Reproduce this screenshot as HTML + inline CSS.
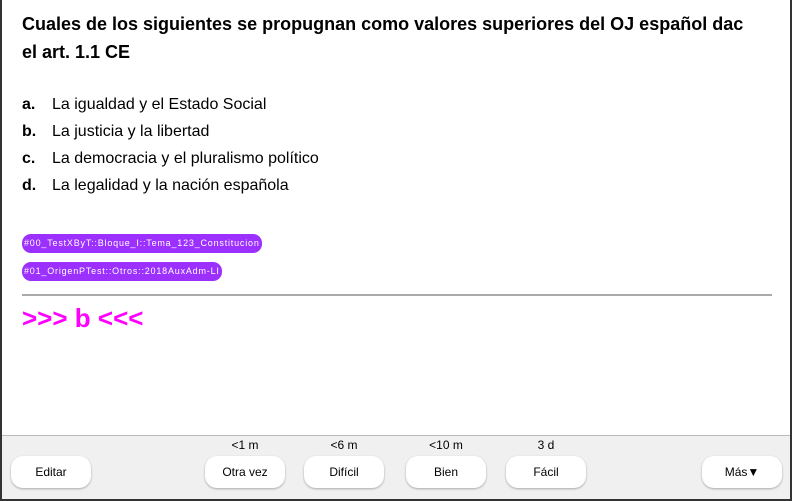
<!DOCTYPE html>
<html><head><meta charset="utf-8"><style>
*{margin:0;padding:0;box-sizing:border-box}
body{width:792px;height:501px;overflow:hidden;background:#fff;font-family:"Liberation Sans",sans-serif;position:relative}
.frame{position:absolute;left:0;top:0;width:792px;height:501px;border-left:2px solid #333;border-right:2px solid #333;border-bottom:2px solid #333}
.t{position:absolute;left:22px;top:10px;width:735px;font-weight:bold;font-size:18px;line-height:28px;color:#000}
.opt{position:absolute;left:22px;font-size:16px;color:#000}
.opt b{display:inline-block;width:30px}
.tag{position:absolute;left:22px;height:19px;background:#9b30ff;color:#fff;font-size:9px;letter-spacing:0.8px;line-height:19px;padding:0 2px;border-radius:9px;white-space:nowrap}
.hr{position:absolute;left:22px;top:294px;width:750px;height:2px;background:#aaa}
.ans{position:absolute;left:22px;top:303px;font-size:26px;font-weight:bold;color:#f0f}
.bar{position:absolute;left:2px;top:435px;width:788px;height:64px;background:#f0f0f0;border-top:1px solid #bbb}
.btn{position:absolute;top:456px;width:80px;height:32px;background:#fff;border-radius:12px;box-shadow:0 1px 2px rgba(0,0,0,.3);font-size:12px;text-align:center;line-height:32px;color:#000}
.lbl{position:absolute;top:438px;width:80px;text-align:center;font-size:12px;color:#000}
</style></head><body>
<div class="t">Cuales de los siguientes se propugnan como valores superiores del OJ español dac el art. 1.1 CE</div>
<div class="opt" style="top:96px"><b>a.</b>La igualdad y el Estado Social</div>
<div class="opt" style="top:123px"><b>b.</b>La justicia y la libertad</div>
<div class="opt" style="top:150px"><b>c.</b>La democracia y el pluralismo político</div>
<div class="opt" style="top:177px"><b>d.</b>La legalidad y la nación española</div>
<div class="tag" style="top:234px">#00_TestXByT::Bloque_I::Tema_123_Constitucion</div>
<div class="tag" style="top:262px">#01_OrigenPTest::Otros::2018AuxAdm-LI</div>
<div class="hr"></div>
<div class="ans">&gt;&gt;&gt; b &lt;&lt;&lt;</div>
<div class="bar"></div>
<div class="lbl" style="left:205px">&lt;1 m</div>
<div class="lbl" style="left:304px">&lt;6 m</div>
<div class="lbl" style="left:406px">&lt;10 m</div>
<div class="lbl" style="left:506px">3 d</div>
<div class="btn" style="left:11px">Editar</div>
<div class="btn" style="left:205px">Otra vez</div>
<div class="btn" style="left:304px">Difícil</div>
<div class="btn" style="left:406px">Bien</div>
<div class="btn" style="left:506px">Fácil</div>
<div class="btn" style="left:702px">Más▼</div>
<div class="frame"></div>
</body></html>
